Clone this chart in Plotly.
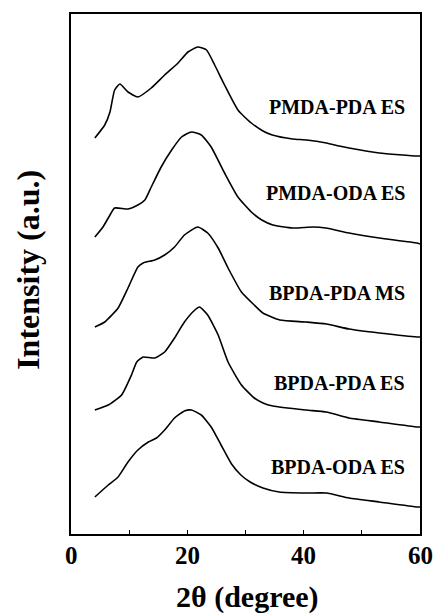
import plotly.graph_objects as go

# 2-theta positions (degree) and intensities (a.u., stacked)
pmda_pda_es_x = [4.1, 5.8, 6.7, 7.5, 8.4, 9.8, 11.5, 13.8, 16.1, 18.4, 20.1, 21.8, 23.3, 24.7,
                 26.4, 28.7, 31.0, 33.0, 34.6, 38.1, 40.5, 43.9, 46.1, 47.8, 53.0, 59.5, 60.0]
pmda_pda_es_y = [396, 409, 422, 444, 450, 442, 437, 446, 459, 471, 482, 487, 484, 469,
                 449, 424, 411, 403, 399, 395, 394, 391, 388, 386, 381, 378, 378]

pmda_oda_es_x = [4.1, 5.5, 6.7, 7.5, 9.8, 11.5, 12.7, 13.8, 15.5, 17.3, 19.0, 20.7, 22.4, 24.1,
                 26.4, 28.7, 31.0, 32.8, 34.7, 38.1, 41.6, 43.8, 47.8, 53.0, 59.5, 60.0]
pmda_oda_es_y = [297, 307, 319, 326, 325, 329, 334, 347, 367, 384, 397, 402, 399, 387,
                 361, 337, 322, 314, 309, 306, 307, 306, 301, 296, 291, 290]

bpda_pda_ms_x = [4.1, 5.8, 8.1, 9.8, 11.5, 12.4, 14.4, 16.1, 17.8, 19.5, 21.8, 23.5, 25.3, 27.0,
                 29.3, 31.5, 33.0, 35.9, 40.4, 43.9, 47.8, 53.0, 59.5, 60.0]
bpda_pda_ms_y = [207, 212, 226, 246, 267, 271, 274, 279, 287, 299, 307, 301, 286, 266,
                 242, 229, 221, 214, 212, 210, 205, 201, 197, 197]

bpda_pda_es_x = [4.1, 6.4, 8.7, 10.4, 11.3, 12.4, 14.4, 16.1, 17.8, 19.5, 21.3, 22.1, 23.5, 25.3,
                 27.0, 29.3, 31.5, 33.0, 34.7, 40.4, 43.9, 47.8, 53.0, 59.5, 60.0]
bpda_pda_es_y = [124, 129, 139, 159, 172, 177, 176, 182, 196, 212, 224, 227, 219, 199,
                 172, 149, 136, 131, 128, 124, 122, 116, 112, 107, 107]

bpda_oda_es_x = [4.1, 6.4, 8.1, 9.8, 11.5, 13.3, 14.7, 16.1, 17.8, 19.5, 20.7, 22.4, 24.1, 25.8,
                 27.6, 29.2, 30.8, 33.0, 35.8, 40.4, 43.9, 47.8, 53.0, 59.5, 60.0]
bpda_oda_es_y = [37, 49, 57, 72, 84, 92, 96, 104, 116, 123, 124, 119, 107, 89,
                 70, 59, 52, 46, 42, 41, 41, 36, 32, 27, 27]

series_names = ["PMDA-PDA ES", "PMDA-ODA ES", "BPDA-PDA MS", "BPDA-PDA ES", "BPDA-ODA ES"]
series_x = [pmda_pda_es_x, pmda_oda_es_x, bpda_pda_ms_x, bpda_pda_es_x, bpda_oda_es_x]
series_y = [pmda_pda_es_y, pmda_oda_es_y, bpda_pda_ms_y, bpda_pda_es_y, bpda_oda_es_y]
label_y = [427, 341, 241, 151, 67]

x_tick_vals = [0, 10, 20, 30, 40, 50, 60]
x_tick_text = ["0", "", "20", "", "40", "", "60"]
x_title = "2θ (degree)"
y_title = "Intensity (a.u.)"

FONT = "Liberation Serif"

fig = go.Figure()
for name, xs, ys in zip(series_names, series_x, series_y):
    fig.add_trace(go.Scatter(x=xs, y=ys, mode="lines", name=name,
                             line=dict(color="black", width=1.6, shape="spline", smoothing=0.5),
                             showlegend=False, hoverinfo="skip"))

for name, ly in zip(series_names, label_y):
    fig.add_annotation(x=57.6, y=ly, xref="x", yref="y", text="<b>%s</b>" % name,
                       showarrow=False, xanchor="right", yanchor="middle", borderpad=0,
                       font=dict(family=FONT, size=20, color="black"))

# bold tick labels placed at the axis tick values
for tv, tt in zip(x_tick_vals, x_tick_text):
    if tt:
        fig.add_annotation(x=tv, y=0, xref="x", yref="paper", yshift=-21,
                           text="<b>%s</b>" % tt, showarrow=False,
                           xanchor="center", yanchor="middle",
                           font=dict(family=FONT, size=25, color="black"))

fig.add_annotation(x=0.507, y=0, xref="paper", yref="paper", yshift=-63,
                   text="<b>%s</b>" % x_title, showarrow=False,
                   xanchor="center", yanchor="middle",
                   font=dict(family=FONT, size=30, color="black"))
fig.add_annotation(x=0, y=0.508, xref="paper", yref="paper", xshift=-43,
                   text="<b>%s</b>" % y_title, showarrow=False, textangle=-90,
                   xanchor="center", yanchor="middle",
                   font=dict(family=FONT, size=32, color="black"))

fig.update_layout(
    width=435, height=615,
    margin=dict(l=71, r=15, t=14, b=81),
    paper_bgcolor="white", plot_bgcolor="white",
    font=dict(family=FONT, color="black"),
)
fig.update_xaxes(range=[0, 60], tickvals=x_tick_vals, showticklabels=False,
                 ticks="inside", ticklen=4, tickwidth=1.2, tickcolor="black",
                 showline=True, linecolor="black", linewidth=1.5, mirror=True,
                 showgrid=False, zeroline=False, automargin=False)
fig.update_yaxes(range=[0, 520], showticklabels=False, ticks="",
                 showline=True, linecolor="black", linewidth=1.5, mirror=True,
                 showgrid=False, zeroline=False, automargin=False)

fig.write_html("out.html")
